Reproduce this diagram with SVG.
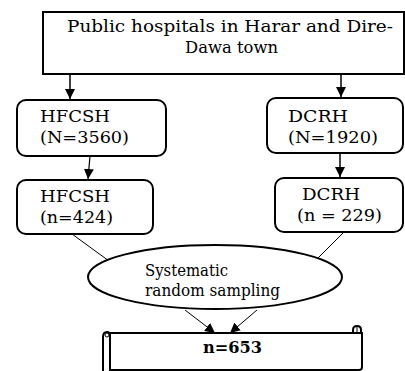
<svg xmlns="http://www.w3.org/2000/svg" width="405" height="371" viewBox="0 0 405 371">
<style>
  .box{fill:#fff;stroke:#000;stroke-width:2}
  text{font-family:'DejaVu Serif','Liberation Serif',serif;font-size:16px;fill:#000}
  .b{font-weight:bold}
  .c{stroke:#000;fill:none}
</style>
<defs>
  <marker id="ah" viewBox="0 0 10 10" refX="10" refY="5" markerWidth="10" markerHeight="10" markerUnits="userSpaceOnUse" orient="auto">
    <path d="M0,0 L10,5 L0,10 z" fill="#000"/>
  </marker>
</defs>
<rect width="405" height="371" fill="#fff"/>
<g id="connectors">
  <line class="c" stroke-width="1.5" x1="70" y1="74" x2="70" y2="99" marker-end="url(#ah)"/>
  <line class="c" stroke-width="1.5" x1="341" y1="74" x2="341" y2="97" marker-end="url(#ah)"/>
  <line class="c" stroke-width="1.2" x1="90" y1="156" x2="88" y2="179" marker-end="url(#ah)"/>
  <line class="c" stroke-width="1.5" x1="340" y1="153" x2="340" y2="177" marker-end="url(#ah)"/>
  <line class="c" stroke-width="1" x1="72" y1="234" x2="109" y2="261"/>
  <line class="c" stroke-width="1" x1="344" y1="232" x2="317" y2="259"/>
  <line class="c" stroke-width="1" x1="185" y1="310" x2="215" y2="333" marker-end="url(#ah)"/>
  <line class="c" stroke-width="1" x1="257" y1="310" x2="230" y2="333" marker-end="url(#ah)"/>
</g>
<g id="top">
  <rect class="box" x="43" y="12" width="361" height="62"/>
  <text x="67" y="32" textLength="326" lengthAdjust="spacingAndGlyphs">Public hospitals in Harar and Dire-</text>
  <text x="185" y="53" textLength="93" lengthAdjust="spacingAndGlyphs">Dawa town</text>
</g>
<g id="hfcsh1">
  <rect class="box" x="17" y="100" width="149" height="56" rx="9"/>
  <text x="40" y="122" textLength="70" lengthAdjust="spacingAndGlyphs">HFCSH</text>
  <text x="40" y="143" textLength="89" lengthAdjust="spacingAndGlyphs">(N=3560)</text>
</g>
<g id="dcrh1">
  <rect class="box" x="267" y="98" width="136" height="55" rx="9"/>
  <text x="288" y="122" textLength="60" lengthAdjust="spacingAndGlyphs">DCRH</text>
  <text x="288" y="143" textLength="90" lengthAdjust="spacingAndGlyphs">(N=1920)</text>
</g>
<g id="hfcsh2">
  <rect class="box" x="17" y="180" width="136" height="54" rx="9"/>
  <text x="40" y="202" textLength="70" lengthAdjust="spacingAndGlyphs">HFCSH</text>
  <text x="40" y="223" textLength="73" lengthAdjust="spacingAndGlyphs">(n=424)</text>
</g>
<g id="dcrh2">
  <rect class="box" x="275" y="178" width="128" height="54" rx="9"/>
  <text x="302" y="200" textLength="58" lengthAdjust="spacingAndGlyphs">DCRH</text>
  <text x="297" y="221" textLength="85" lengthAdjust="spacingAndGlyphs">(n = 229)</text>
</g>
<g id="sampling">
  <ellipse class="box" cx="215" cy="277" rx="127" ry="32"/>
  <text x="145" y="276" textLength="83" lengthAdjust="spacingAndGlyphs">Systematic</text>
  <text x="145" y="296" textLength="135" lengthAdjust="spacingAndGlyphs">random sampling</text>
</g>
<g id="total">
  <path class="box" d="M110,333 L362,333 L362,367 Q362,370 359,370 L110,370 Z"/>
  <path class="c" stroke-width="2" d="M103,373 L103,337 Q103,332 107,332 Q110,332 110,336 L110,373"/>
  <circle cx="107" cy="335" r="2" fill="none" stroke="#000" stroke-width="1"/>
  <path class="c" stroke-width="2" fill="#fff" d="M353,333 L353,330 Q353,326 357,326 Q361,326 361,330 L361,333"/>
  <line class="c" stroke-width="1" x1="357" y1="326" x2="357" y2="333"/>
  <text class="b" x="203" y="353" textLength="59" lengthAdjust="spacingAndGlyphs">n=653</text>
</g>
</svg>
